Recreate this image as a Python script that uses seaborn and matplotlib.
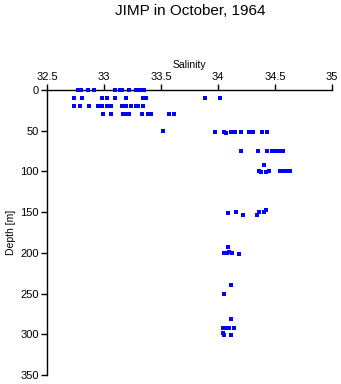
import matplotlib
matplotlib.use("Agg")
import matplotlib.pyplot as plt
import seaborn as sns
import pandas as pd

salinity = [
    32.77, 32.80, 32.86, 32.915, 33.096, 33.14, 33.16, 33.22, 33.28, 33.32, 33.35,
    32.74, 32.81, 32.98, 33.03, 33.10, 33.19, 33.34, 33.37, 33.89, 34.02,
    32.74, 32.79, 32.866, 32.95, 32.98, 33.026, 33.06, 33.155, 33.19, 33.24, 33.28, 33.30, 33.34,
    32.99, 33.06, 33.17, 33.19, 33.22, 33.33, 33.39, 33.41, 33.57, 33.61,
    33.52, 33.97, 34.055, 34.07, 34.11, 34.13, 34.15, 34.20, 34.27, 34.31, 34.39, 34.43,
    34.20, 34.35, 34.43, 34.47, 34.51, 34.54, 34.57,
    34.40,
    34.36, 34.38, 34.42, 34.45, 34.54, 34.56, 34.60, 34.63,
    34.09, 34.16, 34.22, 34.34, 34.36, 34.40, 34.42,
    34.09, 34.055, 34.075, 34.10, 34.125, 34.18,
    34.11, 34.055, 34.11,
    34.04, 34.075, 34.095, 34.14, 34.04, 34.055, 34.11,
]
depth = [
    0, 0, 0, 0, 0, 0, 0, 0, 0, 0, 0,
    10, 10, 10, 10, 10, 10, 10, 10, 10, 10,
    20, 20, 20, 20, 20, 20, 20, 20, 20, 20, 20, 20, 20,
    30, 30, 30, 30, 30, 30, 30, 30, 30, 30,
    50, 52, 52, 53, 51, 51, 51, 52, 51, 51, 51, 52,
    75, 75, 75, 75, 75, 75, 75,
    92,
    100, 101, 101, 100, 100, 100, 100, 100,
    151, 150, 154, 154, 150, 150, 147,
    193, 200, 200, 199, 200, 202,
    240, 250, 281,
    292, 292, 292, 292, 298, 301, 301,
]
x_ticks = [32.5, 33, 33.5, 34, 34.5, 35]
x_tick_labels = ["32.5", "33", "33.5", "34", "34.5", "35"]
y_ticks = [0, 50, 100, 150, 200, 250, 300, 350]

df = pd.DataFrame({"Salinity": salinity, "Depth": depth})

sns.set_style("white")
plt.rcParams["font.family"] = ["Liberation Sans", "DejaVu Sans"]
plt.rcParams["text.color"] = "black"
plt.rcParams["axes.labelcolor"] = "black"
plt.rcParams["xtick.color"] = "black"
plt.rcParams["ytick.color"] = "black"

fig = plt.figure(figsize=(3.41, 3.84), dpi=100)
ax = fig.add_axes([47/341, 1 - 375/384, 285/341, 285/384])

sns.scatterplot(data=df, x="Salinity", y="Depth", ax=ax, marker="s", s=5,
                color="#0000ff", linewidth=0, legend=False, clip_on=False, zorder=5)

ax.set_xlim(32.5, 35)
ax.set_ylim(350, 0)
ax.xaxis.tick_top()
ax.xaxis.set_label_position("top")
ax.set_xticks(x_ticks)
ax.set_xticklabels(x_tick_labels)
ax.set_yticks(y_ticks)
ax.set_xlabel("Salinity", fontsize=7.5, labelpad=3)
ax.set_ylabel("Depth [m]", fontsize=7.5, labelpad=3)
ax.tick_params(axis="both", which="major", direction="out", length=4, width=1,
               labelsize=8, color="black", labelcolor="black", pad=2)
ax.tick_params(axis="x", top=True, bottom=False, labeltop=True, labelbottom=False)
ax.tick_params(axis="y", left=True)
for side in ["right", "bottom"]:
    ax.spines[side].set_visible(False)
for side in ["left", "top"]:
    ax.spines[side].set_color("black")
    ax.spines[side].set_linewidth(1)

fig.text(190/341, 1 - 11/384, "JIMP in October, 1964", ha="center", va="center",
         fontsize=11, color="black")

fig.savefig("out.png", dpi=100)
